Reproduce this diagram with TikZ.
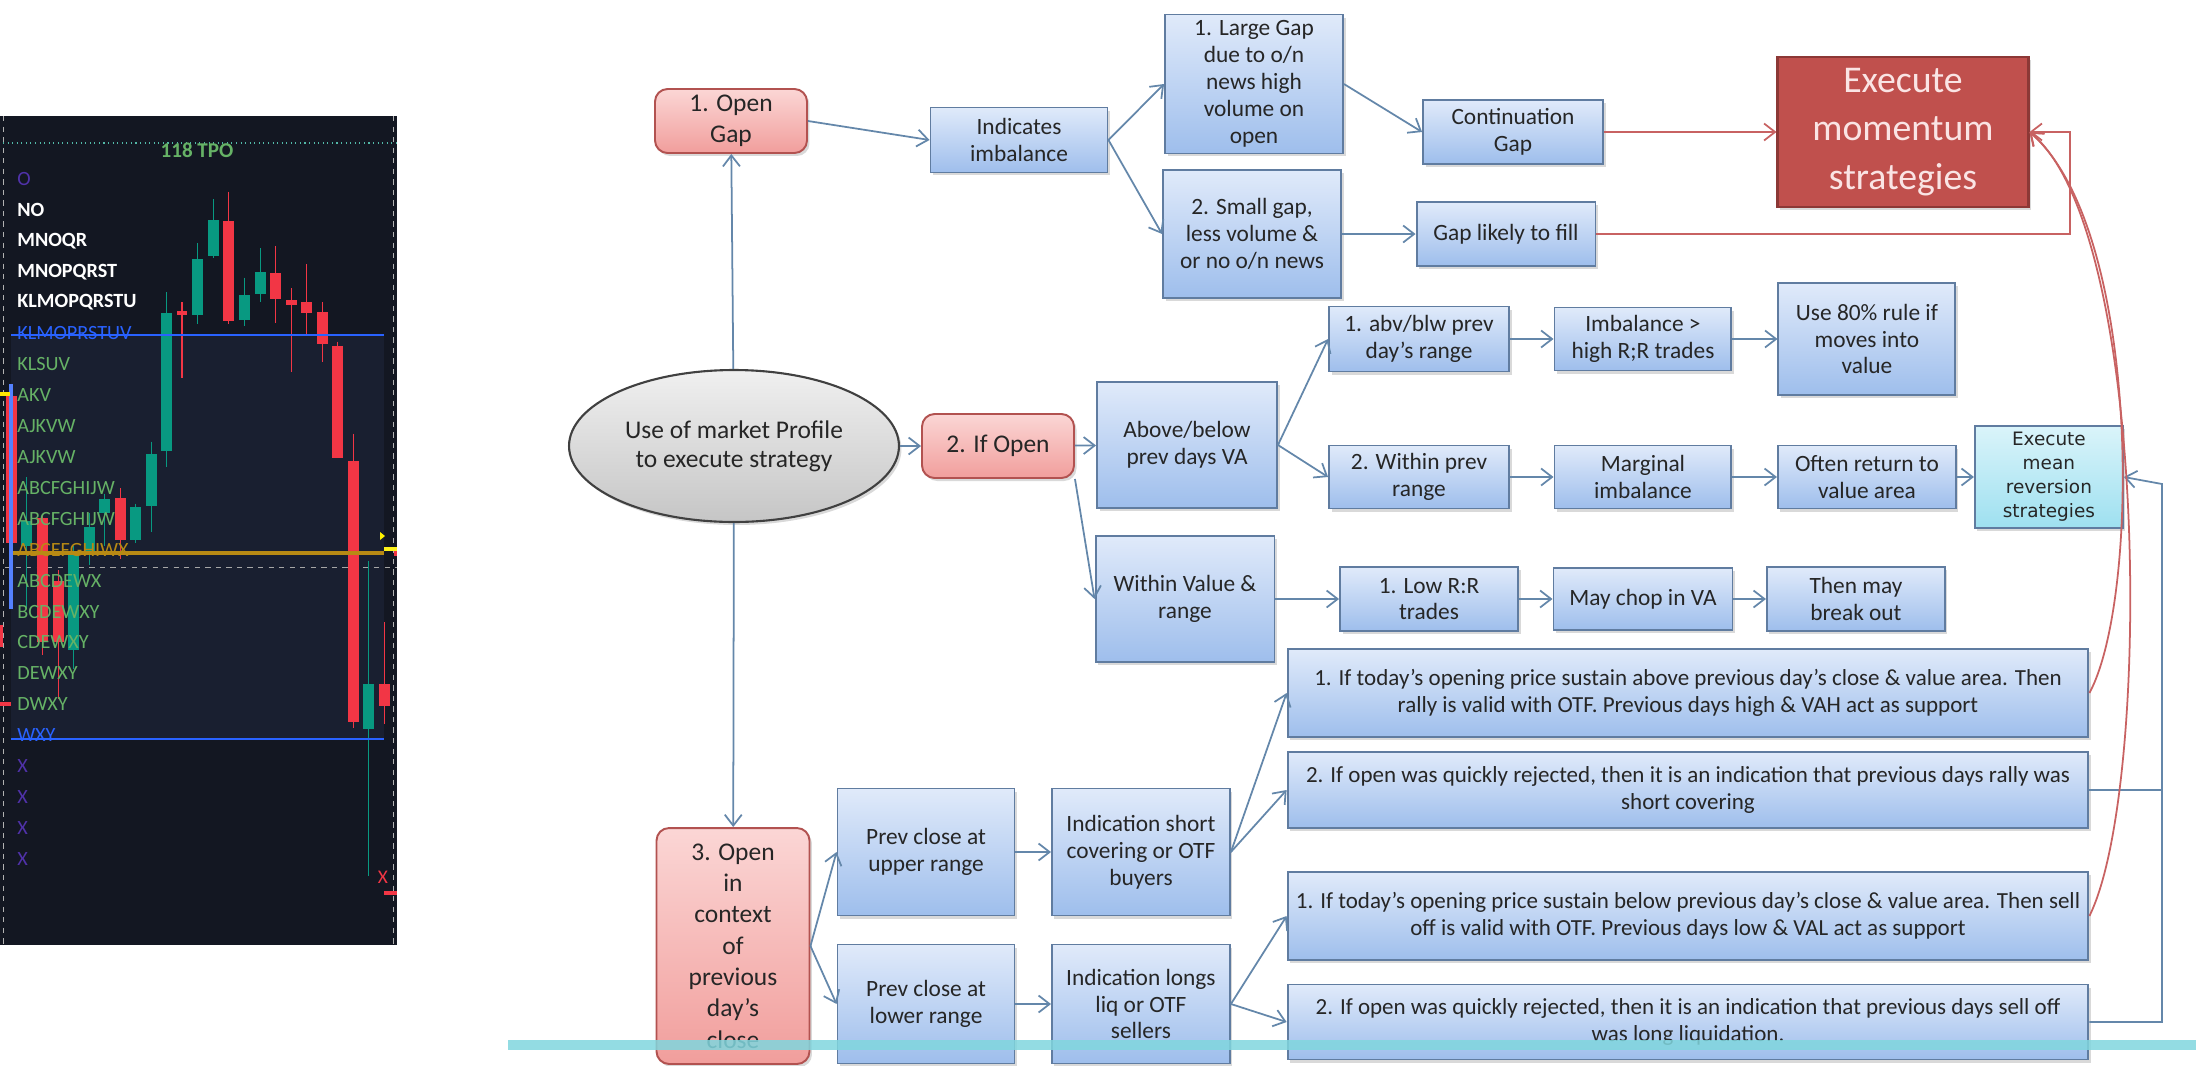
\documentclass[tikz,border=0pt]{standalone}
\usepackage{fontspec}
\setmainfont{Carlito}
\newfontfamily\widefont{DejaVu Sans}
\usetikzlibrary{positioning,shadows,arrows.meta,shapes.geometric}

\definecolor{boxtop}{RGB}{224,234,250}
\definecolor{boxbot}{RGB}{158,190,236}
\definecolor{boxline}{RGB}{96,124,160}
\definecolor{redtop}{RGB}{251,214,213}
\definecolor{redbot}{RGB}{241,158,156}
\definecolor{redline}{RGB}{178,82,80}
\definecolor{momfill}{RGB}{192,80,77}
\definecolor{momline}{RGB}{140,56,54}
\definecolor{momtext}{RGB}{250,228,228}
\definecolor{cyantop}{RGB}{218,244,250}
\definecolor{cyanbot}{RGB}{158,224,240}
\definecolor{linkblue}{RGB}{100,135,170}
\definecolor{linkred}{RGB}{200,98,98}
\definecolor{band}{RGB}{128,214,222}
\definecolor{chartbg}{RGB}{19,23,34}
\definecolor{chartva}{RGB}{25,31,48}
\definecolor{cgreen}{RGB}{8,153,129}
\definecolor{cred}{RGB}{242,54,69}
\definecolor{tpogreen}{RGB}{102,178,102}
\definecolor{tpoblue}{RGB}{41,98,255}
\definecolor{tpopurple}{RGB}{80,50,170}
\definecolor{tpogold}{RGB}{184,138,20}

\begin{document}
\begin{tikzpicture}[x=0.02cm,y=-0.02cm,node distance=4.48cm,
    wh/.style 2 args={minimum width=#1,minimum height=#2},
    box/.style={
      % The shape:
      rectangle,inner sep=2pt,align=center,
      % The rest
      draw=boxline,line width=1.1pt,top color=boxtop,bottom color=boxbot,
      drop shadow={shadow xshift=0.05cm,shadow yshift=-0.06cm,opacity=0.3},
      font=\fontsize{13.3}{15.3}\selectfont,text=black!85},
    longbox/.style={box,inner sep=1pt,font=\fontsize{13.1}{15.3}\selectfont},
    openbox/.style={
      rectangle,rounded corners=2.5mm,inner sep=2pt,align=center,
      draw=redline,line width=1.1pt,top color=redtop,bottom color=redbot,
      drop shadow={shadow xshift=0.05cm,shadow yshift=-0.06cm,opacity=0.3},
      font=\fontsize{14.5}{17.8}\selectfont,text=black!85},
    momentumbox/.style={
      rectangle,align=center,draw=momline,line width=1.2pt,fill=momfill,
      drop shadow={shadow xshift=0.05cm,shadow yshift=-0.06cm,opacity=0.3},
      font=\fontsize{21.5}{27.5}\selectfont,text=momtext},
    meanbox/.style={box,top color=cyantop,bottom color=cyanbot,
      font=\widefont\fontsize{10.5}{13.6}\selectfont},
    link/.style={-{Straight Barb[length=2.2mm,width=3.4mm]},linkblue,line width=1pt},
    redlink/.style={link,linkred}]

  \useasboundingbox (0,0) rectangle (2196,1065);

  % chart panel
  \fill[chartbg] (0,116) rectangle (397,945);
  \fill[chartva] (11,335) rectangle (384,739);
  \draw[gray!60,dashed,line width=0.4pt] (3,116) -- (3,945) (393,116) -- (393,945);
  \draw[cgreen!70,dotted,line width=0.6pt] (3,143) -- (397,143);
  \draw[gray!70,dashed,line width=0.5pt] (5,567) -- (397,567);
  \begin{scope}[shift={(0,99.6)},xscale=1/3,yscale=0.5474]
    \foreach \xl/\bt/\bb/\wt/\wb/\cc in {
        64/770/815/690/930/cgreen, 112/765/990/760/1015/cred,
        160/880/990/860/1095/cred, 205/828/1005/815/1040/cgreen,
        253/780/830/755/850/cgreen, 298/730/755/720/815/cgreen,
        345/728/805/710/840/cred, 390/745/805/738/810/cgreen,
        438/648/742/625/790/cgreen, 483/390/642/352/672/cgreen,
        530/386/393/370/508/cred, 577/292/393/262/410/cgreen,
        624/220/285/182/290/cgreen, 670/222/405/168/410/cred,
        717/357/402/325/413/cgreen, 765/315/355/272/370/cgreen,
        810/317/365/267/408/cred, 858/366/376/345/497/cred,
        903/370/390/300/430/cred, 951/388/447/370/480/cred,
        997/450/655/442/655/cred, 1044/660/1137/610/1148/cred,
        1089/1067/1150/842/1418/cgreen, 1137/1067/1107/955/1140/cred}{
      \draw[\cc,line width=0.6pt] (\xl+16,\wt) -- (\xl+16,\wb);
      \fill[\cc] (\xl,\bt) rectangle (\xl+32,\bb);
    }
  \end{scope}
  \node (tpolabel) [text=tpogreen,font=\fontsize{12}{12}\selectfont\bfseries,inner sep=0pt] at (197,150) {118 TPO};
  \foreach \txt/\cc/\ff [count=\i from 0] in {
      O/tpopurple/\mdseries, NO/white/\bfseries, MNOQR/white/\bfseries,
      MNOPQRST/white/\bfseries, KLMOPQRSTU/white/\bfseries,
      KLMOPRSTUV/tpoblue/\mdseries, KLSUV/tpogreen/\mdseries,
      AKV/tpogreen/\mdseries, AJKVW/tpogreen/\mdseries, AJKVW/tpogreen/\mdseries,
      ABCFGHIJW/tpogreen/\mdseries, ABCFGHIJW/tpogreen/\mdseries,
      ABCEFGHIWX/tpogold/\mdseries, ABCDEWX/tpogreen/\mdseries,
      BCDEWXY/tpogreen/\mdseries, CDEWXY/tpogreen/\mdseries,
      DEWXY/tpogreen/\mdseries, DWXY/tpogreen/\mdseries, WXY/tpoblue/\mdseries,
      X/tpopurple/\mdseries, X/tpopurple/\mdseries, X/tpopurple/\mdseries,
      X/tpopurple/\mdseries}
    \node (tpo\i) [anchor=west,text=\cc,font=\fontsize{11.5}{11.5}\selectfont\ff,inner sep=0pt] at (17,179+30.9*\i) {\txt};
  \draw[tpoblue,line width=1.2pt] (11,335) -- (384,335) (11,739) -- (384,739);
  \draw[tpogold,line width=2pt] (13,553) -- (384,553);
  \fill[cred] (6,396) rectangle (17,543);
  \fill[tpoblue!80] (9,384) rectangle (13,609);
  \fill[yellow!90!orange] (0,392) rectangle (10,396);
  \fill[cred] (0,625) rectangle (3,647);
  \fill[cred] (0,702) rectangle (11,706);
  \fill[yellow] (380,532) -- (385,536) -- (380,540) -- cycle;
  \fill[yellow!90] (384,547) rectangle (397,551);
  \fill[cred] (394,551) rectangle (397,556);
  \node (xmark) [text=cred,font=\fontsize{11}{11}\selectfont,inner sep=0pt] at (383,877) {X};
  \fill[cred] (384,891) rectangle (397,895);

  % flow chart
  \node (opengap) [openbox,wh={3.04cm}{1.28cm}] at (731,121) {1. Open\\Gap};
  \node (indic) [box,wh={3.54cm}{1.3cm}] at (1019,140) {Indicates\\imbalance};
  \node (largegap) [box,wh={3.56cm}{2.78cm}] at (1254,84) {1. Large Gap\\due to o/n\\news high\\volume on\\open};
  \node (smallgap) [box,wh={3.56cm}{2.56cm}] at (1252,234) {2. Small gap,\\less volume \&\\or no o/n news};
  \node (contgap) [box,wh={3.6cm}{1.28cm}] at (1513,132) {Continuation\\Gap};
  \node (gapfill) [box,wh={3.58cm}{1.28cm}] at (1506,234) {Gap likely to fill};
  \node (momentum) [momentumbox,wh={5.02cm}{3cm}] at (1903,132) {Execute\\momentum\\strategies};

  \node (profile) [ellipse,wh={6.6cm}{3.04cm},inner sep=0pt,align=center,
    draw=black!75,line width=1.2pt,top color=gray!12,bottom color=gray!45,
    drop shadow={shadow xshift=0.05cm,shadow yshift=-0.06cm,opacity=0.3},
    font=\fontsize{14.5}{16.5}\selectfont,text=black!85] at (734,446) {Use of market Profile\\to execute strategy};
  \node (ifopen) [openbox,wh={3.04cm}{1.28cm}] at (998,446) {2. If Open};
  \node (abovebelow) [box,wh={3.6cm}{2.52cm}] at (1187,445) {Above/below\\prev days VA};
  \node (withinva) [box,wh={3.58cm}{2.52cm}] at (1185,599) {Within Value \&\\range};

  \node (abvblw) [box,wh={3.6cm}{1.3cm}] at (1419,339) {1. abv/blw prev\\day’s range};
  \node (imbhigh) [box,wh={3.54cm}{1.26cm},right of=abvblw] {Imbalance >\\high R;R trades};
  \node (rule80) [box,wh={3.54cm}{2.24cm},right of=imbhigh] {Use 80\% rule if\\moves into\\value};
  \node (withinprev) [box,wh={3.6cm}{1.26cm}] at (1419,477) {2. Within prev\\range};
  \node (marginal) [box,wh={3.54cm}{1.26cm},right of=withinprev] {Marginal\\imbalance};
  \node (oftenret) [box,wh={3.56cm}{1.26cm},right of=marginal] {Often return to\\value area};
  \node (meanrev) [meanbox,wh={2.96cm}{2.04cm},node distance=3.64cm,right of=oftenret] {Execute\\mean\\reversion\\strategies};
  \node (lowrr) [box,wh={3.56cm}{1.28cm}] at (1429,599) {1. Low R:R\\trades};
  \node (chop) [box,wh={3.58cm}{1.24cm},node distance=4.28cm,right of=lowrr] {May chop in VA};
  \node (thenmay) [box,wh={3.56cm}{1.28cm},node distance=4.26cm,right of=chop] {Then may\\break out};

  \node (aboveclose) [longbox,wh={16.02cm}{1.76cm}] at (1688,693) {1. If today’s opening price sustain above previous day’s close \& value area. Then\\rally is valid with OTF. Previous days high \& VAH act as support};
  \node (rallyrej) [longbox,wh={16.02cm}{1.52cm}] at (1688,790) {2. If open was quickly rejected, then it is an indication that previous days rally was\\short covering};
  \node (belowclose) [longbox,wh={16.02cm}{1.76cm}] at (1688,916) {1. If today’s opening price sustain below previous day’s close \& value area. Then sell\\off is valid with OTF. Previous days low \& VAL act as support};
  \node (selloffrej) [longbox,wh={16.02cm}{1.5cm}] at (1688,1022) {2. If open was quickly rejected, then it is an indication that previous days sell off\\was long liquidation.};

  \node (opencontext) [openbox,wh={3.06cm}{4.72cm}] at (733,946) {3. Open\\in\\context\\of\\previous\\day’s\\close};
  \node (prevup) [box,wh={3.54cm}{2.54cm}] at (926,852) {Prev close at\\upper range};
  \node (prevlow) [box,wh={3.54cm}{2.38cm}] at (926,1004) {Prev close at\\lower range};
  \node (indshort) [box,wh={3.56cm}{2.54cm},node distance=4.3cm,right of=prevup] {Indication short\\covering or OTF\\buyers};
  \node (indlong) [box,wh={3.56cm}{2.38cm},node distance=4.3cm,right of=prevlow] {Indication longs\\liq or OTF\\sellers};

  \coordinate (momturn) at (2070,132);
  \coordinate (mrturn) at (2162,484);

  \draw[link] (profile) -- (opengap);
  \draw[link] (profile) -- (opencontext);
  \draw[link] (profile) -- (ifopen);
  \draw[link] (opengap.east) -- (indic.west);
  \draw[link] (indic.east) -- (largegap.west);
  \draw[link] (indic.east) -- (smallgap.west);
  \draw[link] (largegap.east) -- (contgap.west);
  \draw[link] (smallgap) -- (gapfill);
  \draw[redlink] (contgap) -- (momentum);
  \draw[redlink] (gapfill.east) -| (momturn) -- (momentum.east);
  \draw[link] (ifopen) -- (abovebelow);
  \draw[link] (ifopen.south east) -- (withinva.west);
  \draw[link] (abovebelow.east) -- (abvblw.west);
  \draw[link] (abovebelow.east) -- (withinprev.west);
  \draw[link] (withinva) -- (lowrr);
  \draw[link] (abvblw) -- (imbhigh);
  \draw[link] (imbhigh) -- (rule80);
  \draw[link] (withinprev) -- (marginal);
  \draw[link] (marginal) -- (oftenret);
  \draw[link] (oftenret) -- (meanrev);
  \draw[link] (lowrr) -- (chop);
  \draw[link] (chop) -- (thenmay);
  \draw[link] (opencontext.east) -- (prevup.west);
  \draw[link] (opencontext.east) -- (prevlow.west);
  \draw[link] (prevup) -- (indshort);
  \draw[link] (prevlow) -- (indlong);
  \draw[link] (indshort.east) -- (aboveclose.west);
  \draw[link] (indshort.east) -- (rallyrej.west);
  \draw[link] (indlong.east) -- (belowclose.west);
  \draw[link] (indlong.east) -- (selloffrej.west);
  \draw[link] (selloffrej.east) -| (mrturn) -- (meanrev.east);
  \draw[link,-] (rallyrej.east) -- (rallyrej.east -| mrturn);
  \draw[redlink] (aboveclose.east) .. controls (2140,600) and (2142,230) .. (momentum.east);
  \draw[redlink] (belowclose.east) .. controls (2152,790) and (2150,230) .. (momentum.east);

  % band over the bottom
  \fill[band,opacity=0.85] (508,1040) rectangle (2196,1050);
\end{tikzpicture}
\end{document}
